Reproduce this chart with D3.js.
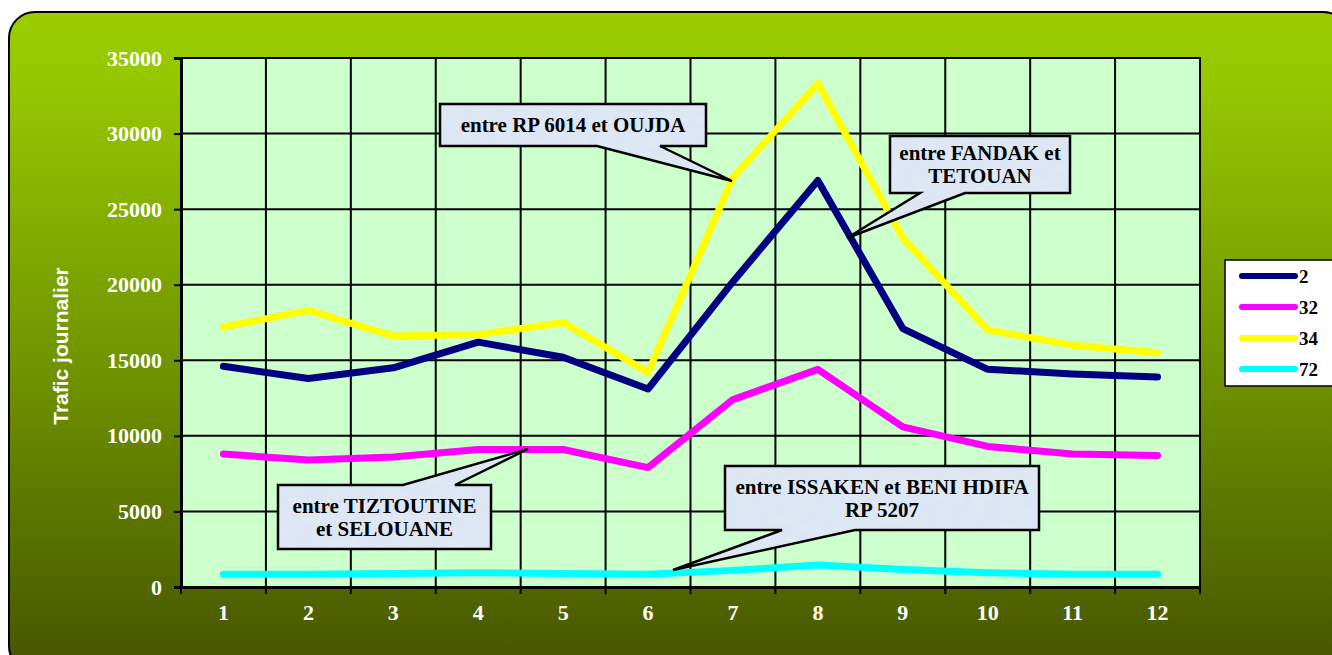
<!DOCTYPE html>
<html>
<head>
<meta charset="utf-8" />
<title>Trafic journalier</title>
<style>
body { margin: 0; background: #fff; }
svg { display: block; }
</style>
</head>
<body>
<div id="chart"></div>
<script src="https://d3js.org/d3.v7.min.js"></script>
<script>
var months = ['1', '2', '3', '4', '5', '6', '7', '8', '9', '10', '11', '12'];
var route2 = [14600, 13800, 14500, 16200, 15200, 13100, 20200, 26900, 17100, 14400, 14100, 13900];
var route32 = [8800, 8400, 8600, 9100, 9100, 7900, 12400, 14400, 10600, 9300, 8800, 8700];
var route34 = [17200, 18300, 16600, 16700, 17500, 14200, 27100, 33300, 23100, 17000, 16000, 15500];
var route72 = [850, 850, 900, 950, 900, 850, 1100, 1450, 1150, 950, 850, 850];
var seriesNames = ['2', '32', '34', '72'];
var yTicks = [0, 5000, 10000, 15000, 20000, 25000, 30000, 35000];

(function(d3) {
'use strict';
var width = 1332, height = 655;
var serif = '"Liberation Serif", "Times New Roman", serif';
var colors = { '2': '#000080', '32': '#ff00ff', '34': '#ffff00', '72': '#00ffff' };
var series = [
  { name: '2', values: route2 },
  { name: '32', values: route32 },
  { name: '34', values: route34 },
  { name: '72', values: route72 }
];

var svg = d3.select('#chart').append('svg')
  .attr('width', width)
  .attr('height', height);

var defs = svg.append('defs');
var grad = defs.append('linearGradient').attr('id', 'bg')
  .attr('x1', 0).attr('y1', 0).attr('x2', 0).attr('y2', 1);
grad.append('stop').attr('offset', '0%').attr('stop-color', '#9acc00');
grad.append('stop').attr('offset', '10%').attr('stop-color', '#96c800');
grad.append('stop').attr('offset', '55%').attr('stop-color', '#6f9200');
grad.append('stop').attr('offset', '100%').attr('stop-color', '#465400');

var tex = defs.append('filter').attr('id', 'tex')
  .attr('x', 0).attr('y', 0).attr('width', 1).attr('height', 1);
tex.append('feTurbulence').attr('type', 'fractalNoise')
  .attr('baseFrequency', 0.08).attr('numOctaves', 2).attr('result', 'n');
tex.append('feColorMatrix').attr('in', 'n').attr('type', 'matrix')
  .attr('values', '0 0 0 0 0.80  0 0 0 0 0.86  0 0 0 0 0.95  0 0 0 0.7 -0.15')
  .attr('result', 'c');
tex.append('feComposite').attr('in', 'c').attr('in2', 'SourceGraphic').attr('operator', 'atop');

svg.append('rect')
  .attr('x', 9).attr('y', 12)
  .attr('width', 1340).attr('height', 660)
  .attr('rx', 26).attr('ry', 26)
  .attr('fill', 'url(#bg)')
  .attr('stroke', '#000').attr('stroke-width', 2);

var left = 181, top = 58, right = 1200, bottom = 587;

var x = d3.scaleBand().domain(months).range([left, right]).padding(0);
var y = d3.scaleLinear().domain([0, 35000]).range([bottom, top]);

svg.append('rect')
  .attr('x', left).attr('y', top)
  .attr('width', right - left).attr('height', bottom - top)
  .attr('fill', '#ccffcc');

// grid
var bounds = months.map(function(m) { return x(m); }).slice(1);
svg.append('g').selectAll('line').data(bounds).enter().append('line')
  .attr('x1', function(d) { return d; }).attr('x2', function(d) { return d; })
  .attr('y1', top).attr('y2', bottom)
  .attr('stroke', '#000').attr('stroke-width', 2);
svg.append('g').selectAll('line').data(yTicks.slice(1, -1)).enter().append('line')
  .attr('x1', left).attr('x2', right)
  .attr('y1', function(d) { return y(d); }).attr('y2', function(d) { return y(d); })
  .attr('stroke', '#000').attr('stroke-width', 2);

svg.append('rect')
  .attr('x', left).attr('y', top)
  .attr('width', right - left).attr('height', bottom - top)
  .attr('fill', 'none').attr('stroke', '#000').attr('stroke-width', 2);

// axes
var yAxis = svg.append('g').attr('transform', 'translate(' + left + ',0)')
  .call(d3.axisLeft(y).tickValues(yTicks).tickSize(7).tickPadding(12).tickFormat(d3.format('d')));
var xAxis = svg.append('g').attr('transform', 'translate(0,' + bottom + ')')
  .call(d3.axisBottom(x).tickSize(0).tickPadding(17));
[yAxis, xAxis].forEach(function(a) {
  a.attr('font-family', null).attr('font-size', null);
  a.select('.domain').attr('stroke', '#000').attr('stroke-width', 3);
  a.selectAll('line').attr('stroke', '#000').attr('stroke-width', 2);
  a.selectAll('text')
    .attr('fill', '#fff')
    .style('font-family', serif)
    .style('font-weight', 'bold')
    .style('font-size', '22px');
});
svg.append('g').selectAll('line').data(months.map(function(m) { return x(m); }).concat([right])).enter().append('line')
  .attr('x1', function(d) { return d; }).attr('x2', function(d) { return d; })
  .attr('y1', bottom).attr('y2', bottom + 7)
  .attr('stroke', '#000').attr('stroke-width', 2);

svg.append('text')
  .attr('transform', 'translate(68,346) rotate(-90)')
  .attr('text-anchor', 'middle')
  .attr('fill', '#fff')
  .style('font-family', '"Liberation Sans", Arial, sans-serif')
  .style('font-weight', 'bold')
  .style('font-size', '21px')
  .text('Trafic journalier');

// lines
var line = d3.line()
  .x(function(d, i) { return x(months[i]) + x.bandwidth() / 2; })
  .y(function(d) { return y(d); });

svg.append('g').selectAll('path').data(series).enter().append('path')
  .attr('d', function(d) { return line(d.values); })
  .attr('fill', 'none')
  .attr('stroke', function(d) { return colors[d.name]; })
  .attr('stroke-width', 7)
  .attr('stroke-linecap', 'round')
  .attr('stroke-linejoin', 'round');

// callouts
var callouts = [
  { lines: ['entre RP 6014 et OUJDA'], box: [440, 104, 266, 42], base: [597, 660], tip: [732, 181] },
  { lines: ['entre FANDAK et', 'TETOUAN'], box: [890, 136, 180, 57], base: [920, 965], tip: [847, 238] },
  { lines: ['entre TIZTOUTINE', 'et SELOUANE'], box: [278, 485, 213, 64], base: [403, 455], tip: [528, 449] },
  { lines: ['entre ISSAKEN et BENI HDIFA', 'RP 5207'], box: [725, 466, 314, 64], base: [782, 855], tip: [673, 570] }
];
function calloutPath(c) {
  var bx = c.box[0], by = c.box[1], bw = c.box[2], bh = c.box[3];
  var p = d3.path();
  if (c.tip[1] > by) {
    p.moveTo(bx, by); p.lineTo(bx + bw, by); p.lineTo(bx + bw, by + bh);
    p.lineTo(c.base[1], by + bh); p.lineTo(c.tip[0], c.tip[1]); p.lineTo(c.base[0], by + bh);
    p.lineTo(bx, by + bh);
  } else {
    p.moveTo(bx, by); p.lineTo(c.base[0], by); p.lineTo(c.tip[0], c.tip[1]);
    p.lineTo(c.base[1], by); p.lineTo(bx + bw, by); p.lineTo(bx + bw, by + bh);
    p.lineTo(bx, by + bh);
  }
  p.closePath();
  return p.toString();
}
var cg = svg.append('g').selectAll('g').data(callouts).enter().append('g');
cg.append('path')
  .attr('d', calloutPath)
  .attr('fill', '#dbe5f3')
  .attr('filter', 'url(#tex)');
cg.append('path')
  .attr('d', calloutPath)
  .attr('fill', 'none')
  .attr('stroke', '#000').attr('stroke-width', 2.5)
  .attr('stroke-linejoin', 'miter');
cg.each(function(c) {
  var g = d3.select(this);
  var n = c.lines.length;
  var cx = c.box[0] + c.box[2] / 2, cy = c.box[1] + c.box[3] / 2;
  c.lines.forEach(function(t, i) {
    g.append('text')
      .attr('x', cx)
      .attr('y', cy + (i - (n - 1) / 2) * 23)
      .attr('dy', '0.35em')
      .attr('text-anchor', 'middle')
      .attr('fill', '#000')
      .style('font-family', serif)
      .style('font-weight', 'bold')
      .style('font-size', '21px')
      .text(t);
  });
});

// legend
var lg = svg.append('g');
lg.append('rect')
  .attr('x', 1225).attr('y', 260).attr('width', 108).attr('height', 126)
  .attr('fill', '#fff').attr('stroke', '#000').attr('stroke-width', 1.5);
var items = lg.selectAll('g').data(seriesNames).enter().append('g')
  .attr('transform', function(d, i) { return 'translate(0,' + (276 + i * 31) + ')'; });
items.append('line')
  .attr('x1', 1242).attr('x2', 1295)
  .attr('stroke', function(d) { return colors[d]; })
  .attr('stroke-width', 6).attr('stroke-linecap', 'round');
items.append('text')
  .attr('x', 1299).attr('dy', '0.35em')
  .attr('fill', '#000')
  .style('font-family', serif)
  .style('font-weight', 'bold')
  .style('font-size', '19px')
  .text(function(d) { return d; });
})(window.d3);
</script>
</body>
</html>
